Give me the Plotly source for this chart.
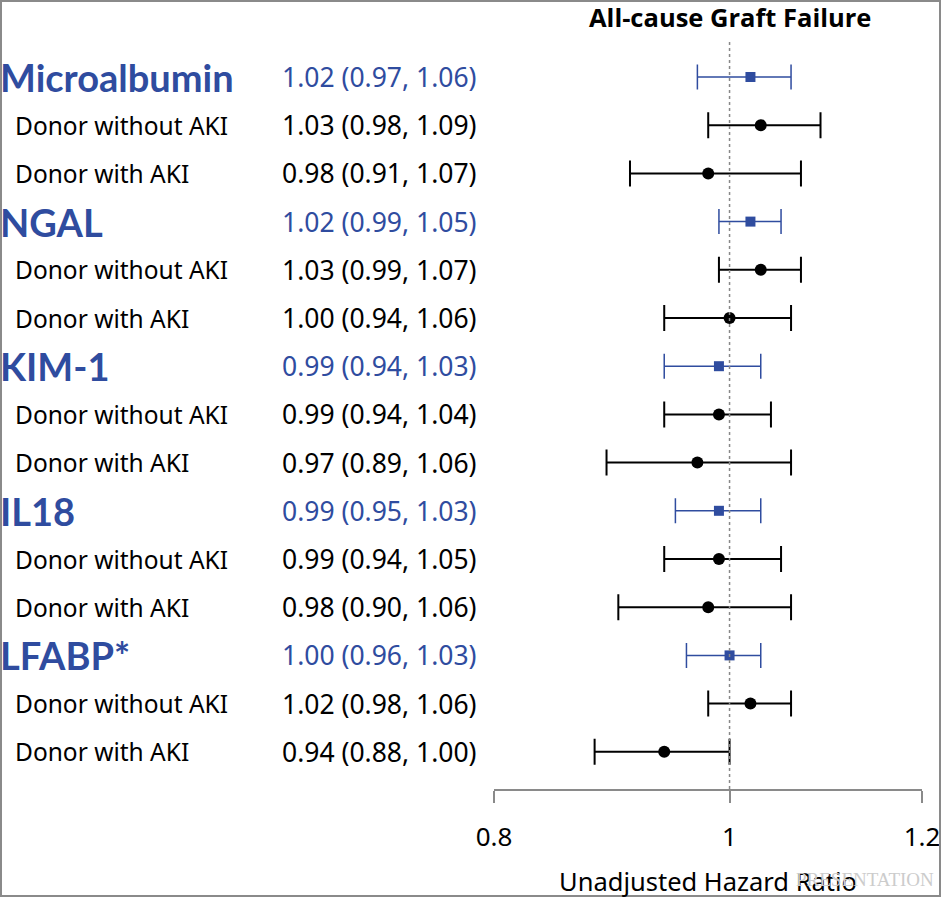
"""Forest plot: unadjusted hazard ratios of donor urine biomarkers for
all-cause graft failure, overall and split by donor AKI status."""

import math

import plotly.graph_objects as go

groups = ["Microalbumin", "NGAL", "KIM-1", "IL18", "LFABP*"]
sub_labels = ["Donor without AKI", "Donor with AKI"]

# overall estimate per biomarker
hr_all = [1.02, 1.02, 0.99, 0.99, 1.00]
lo_all = [0.97, 0.99, 0.94, 0.95, 0.96]
hi_all = [1.06, 1.05, 1.03, 1.03, 1.03]

# donor without AKI
hr_noaki = [1.03, 1.03, 0.99, 0.99, 1.02]
lo_noaki = [0.98, 0.99, 0.94, 0.94, 0.98]
hi_noaki = [1.09, 1.07, 1.04, 1.05, 1.06]

# donor with AKI
hr_aki = [0.98, 1.00, 0.97, 0.98, 0.94]
lo_aki = [0.91, 0.94, 0.89, 0.90, 0.88]
hi_aki = [1.07, 1.06, 1.06, 1.06, 1.00]

x_ticks = [0.8, 1, 1.2]
title = "All-cause Graft Failure"
x_title = "Unadjusted Hazard Ratio"

blue = "#2f4c9f"
font = "Noto Sans"

# %% layout geometry (pixels)
W, H = 941, 897
ml, mr, mt, mb = 0, 19, 40, 108
pw, ph = W - ml - mr, H - mt - mb
split = 494  # left edge of forest panel
row0, row_step = 77, 48.2  # centre of first row, spacing


def row_y(py):
    return (py - row0) / row_step


def paper_y(py):
    return (mt + ph - py) / ph


# row index of each line (0 = top)
y_all = [3 * i for i in range(len(groups))]
y_noaki = [3 * i + 1 for i in range(len(groups))]
y_aki = [3 * i + 2 for i in range(len(groups))]

fig = go.Figure()


def add_series(hr, lo, hi, ys, color, symbol, size, lw, cap):
    fig.add_trace(
        go.Scatter(
            x=hr,
            y=ys,
            mode="markers",
            marker=dict(color=color, symbol=symbol, size=size, line_width=0),
            error_x=dict(
                type="data",
                symmetric=False,
                array=[h - m for h, m in zip(hi, hr)],
                arrayminus=[m - l for m, l in zip(hr, lo)],
                color=color,
                thickness=lw,
                width=cap,
            ),
            showlegend=False,
            hoverinfo="skip",
        )
    )


add_series(hr_all, lo_all, hi_all, y_all, blue, "square", 10, 1.5, 12.5)
add_series(hr_noaki, lo_noaki, hi_noaki, y_noaki, "black", "circle", 12, 2, 13)
add_series(hr_aki, lo_aki, hi_aki, y_aki, "black", "circle", 12, 2, 13)

# text columns on a hidden pixel-scaled axis
txt = dict(xref="x2", yref="y", xanchor="left", yanchor="middle", showarrow=False)
for i, g in enumerate(groups):
    fig.add_annotation(
        x=0, xshift=-2, y=y_all[i], text=f"<b>{g}</b>",
        font=dict(family="Lato", size=38, color=blue), **txt,
    )
    fig.add_annotation(
        x=281, y=y_all[i], text=f"{hr_all[i]:.2f} ({lo_all[i]:.2f}, {hi_all[i]:.2f})",
        font=dict(family=font, size=26.5, color=blue), **txt,
    )
    for ys, hr, lo, hi, lab in (
        (y_noaki, hr_noaki, lo_noaki, hi_noaki, sub_labels[0]),
        (y_aki, hr_aki, lo_aki, hi_aki, sub_labels[1]),
    ):
        fig.add_annotation(
            x=13, y=ys[i], text=lab, font=dict(family=font, size=24.5, color="black"), **txt
        )
        fig.add_annotation(
            x=281, y=ys[i], text=f"{hr[i]:.2f} ({lo[i]:.2f}, {hi[i]:.2f})",
            font=dict(family=font, size=26.5, color="black"), **txt,
        )

# reference line at HR = 1
fig.add_vline(x=1, line=dict(color="#888888", width=1.5, dash="dot"))

# title above the HR = 1 line
fig.add_annotation(
    x=math.log10(1), y=paper_y(17), xref="x", yref="paper",
    text=f"<b>{title}</b>", showarrow=False, xanchor="center", yanchor="middle",
    font=dict(family="Open Sans", size=25.5, color="black"),
)
# axis title
fig.add_annotation(
    x=0.5 * (1 + split / pw), y=paper_y(881), xref="paper", yref="paper",
    text=x_title, showarrow=False, xanchor="center", yanchor="middle",
    font=dict(family=font, size=25.5, color="black"),
)
# faint watermark
fig.add_annotation(
    x=936 / pw, y=paper_y(879), xref="paper", yref="paper",
    text="PRESENTATION", showarrow=False, xanchor="right", yanchor="middle",
    font=dict(family="Liberation Serif", size=19, color="#cccccc"),
)

# outer border
fig.add_shape(
    type="rect", xref="paper", yref="paper",
    x0=1 / pw, x1=940 / pw, y0=paper_y(896), y1=paper_y(1),
    line=dict(color="#8a8a8a", width=2), fillcolor="rgba(0,0,0,0)",
)

fig.update_layout(
    width=W,
    height=H,
    autosize=False,
    margin=dict(l=ml, r=mr, t=mt, b=mb, pad=0, autoexpand=False),
    paper_bgcolor="white",
    plot_bgcolor="white",
    font=dict(family=font, size=22, color="black"),
    xaxis=dict(
        type="log",
        domain=[split / pw, 1],
        range=[math.log10(0.8), math.log10(1.2)],
        tickvals=x_ticks,
        ticktext=[f"{v:g}" for v in x_ticks],
        showline=True,
        linecolor="#8a8a8a",
        linewidth=1.5,
        ticks="outside",
        ticklen=12,
        tickwidth=1.5,
        tickcolor="#8a8a8a",
        ticklabelstandoff=12,
        showgrid=False,
        zeroline=False,
        automargin=False,
        tickfont=dict(size=26, color="black"),
    ),
    xaxis2=dict(
        domain=[0, split / pw - 0.001], range=[0, split], visible=False,
        anchor="y", fixedrange=True, automargin=False,
    ),
    yaxis=dict(
        range=[row_y(mt + ph), row_y(mt)],
        visible=False,
        showgrid=False,
        zeroline=False,
        automargin=False,
    ),
)

fig.write_html(
    "out.html",
    config=dict(responsive=False, displayModeBar=False),
    post_script="document.body.style.margin='0';document.body.style.overflow='hidden';",
)
